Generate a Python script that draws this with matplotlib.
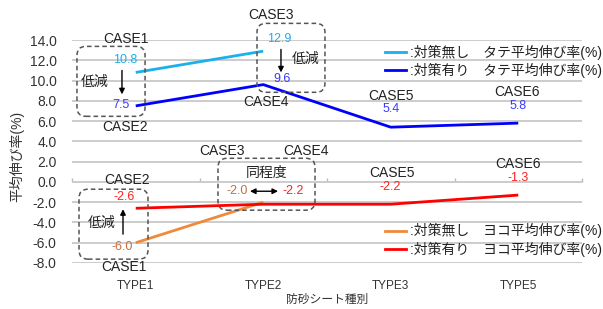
import matplotlib
matplotlib.use('Agg')
import matplotlib.pyplot as plt
import numpy as np
from matplotlib.patches import FancyBboxPatch
from matplotlib.lines import Line2D

plt.rcParams['font.family'] = ['Liberation Sans', 'Noto Sans CJK JP']

# ---- data ----
categories = ['TYPE1', 'TYPE2', 'TYPE3', 'TYPE5']
tate_none = [10.8, 12.9]            # 対策無し タテ
tate_with = [7.5, 9.6, 5.4, 5.8]    # 対策有り タテ
yoko_none = [-6.0, -2.0]            # 対策無し ヨコ
yoko_with = [-2.6, -2.2, -2.2, -1.3]  # 対策有り ヨコ
legend_labels = [':対策無し　タテ平均伸び率(%)', ':対策有り　タテ平均伸び率(%)',
                 ':対策無し　ヨコ平均伸び率(%)', ':対策有り　ヨコ平均伸び率(%)']
yticks = np.arange(-8, 15, 2)

# ---- styles ----
c_lb, c_b, c_o, c_r = '#1ab0ec', '#0000ff', '#f0893a', '#ff0000'
t_lb, t_b, t_o, t_r = '#1ab0ec', '#3a3aff', '#c07040', '#ff2020'
LW = 2.0

fig = plt.figure(figsize=(6.03, 3.09), dpi=100)
W, H = 603, 309
ax = fig.add_axes([72 / W, 1 - 263 / H, 510 / W, 223 / H])
x = np.arange(len(categories))

ax.plot(x[:len(tate_none)], tate_none, color=c_lb, lw=LW, solid_capstyle='butt', zorder=3)
ax.plot(x, tate_with, color=c_b, lw=LW, solid_capstyle='butt', zorder=3)
ax.plot(x[:len(yoko_none)], yoko_none, color=c_o, lw=LW, solid_capstyle='butt', zorder=3)
ax.plot(x, yoko_with, color=c_r, lw=LW, solid_capstyle='butt', zorder=3)

ax.set_xlim(-0.5, 3.5)
ax.set_ylim(-8, 14)
ax.set_yticks(yticks)
ax.set_yticklabels([f'{v:.1f}' for v in yticks], fontsize=10, color='#333333')
ax.set_xticks(x)
ax.set_xticklabels(categories, fontsize=8.5, color='#333333')
ax.tick_params(axis='both', length=0)
ax.tick_params(axis='y', pad=11)
ax.tick_params(axis='x', pad=12)
for s in ax.spines.values():
    s.set_visible(False)
ax.yaxis.grid(True, color='#cccccc', lw=1.4)
ax.set_axisbelow(True)

# category axis at y = 0
sec = ax.secondary_xaxis(8 / 22)
sec.set_xticks(np.arange(-0.5, 4, 1))
sec.set_xticklabels([])
sec.tick_params(direction='in', length=3, color='#bbbbbb', width=1)
sec.spines['bottom'].set_visible(False)
sec.spines['top'].set_visible(False)

fig.text(17 / W, 1 - 156 / H, '平均伸び率(%)', rotation=90, ha='center', va='center',
         fontsize=10, color='#333333')
fig.text(327 / W, 1 - 300 / H, '防砂シート種別', ha='center', va='center',
         fontsize=8.5, color='#333333')

# ---- value labels ----
def lab(xp, yp, s, c, fs=9):
    ax.text(xp, yp, s, color=c, fontsize=fs, ha='center', va='center', clip_on=False, zorder=5)

tate_none_pos = [(-0.084, 12.0), (1.124, 14.06)]
tate_with_pos = [(-0.116, 7.56), (1.147, 10.12), (2.0, 7.16), (2.998, 7.46)]
yoko_none_pos = [(-0.108, -6.43), (0.794, -0.92)]
yoko_with_pos = [(-0.092, -1.51), (1.233, -0.92), (1.994, -0.52), (2.998, 0.36)]
for v, p in zip(tate_none, tate_none_pos):
    lab(p[0], p[1], f'{v:.1f}', t_lb)
for v, p in zip(tate_with, tate_with_pos):
    lab(p[0], p[1], f'{v:.1f}', t_b)
for v, p in zip(yoko_none, yoko_none_pos):
    lab(p[0], p[1], f'{v:.1f}', t_o)
for v, p in zip(yoko_with, yoko_with_pos):
    lab(p[0], p[1], f'{v:.1f}', t_r)

case_texts = ['CASE1', 'CASE2', 'CASE3', 'CASE4', 'CASE5', 'CASE6',
              'CASE3', 'CASE4', 'CASE2', 'CASE1', 'CASE5', 'CASE6']
case_pos = [(-0.076, 14.06), (-0.084, 5.39), (1.06, 16.42), (1.02, 7.85), (2.002, 8.44), (2.99, 8.84),
            (0.676, 3.02), (1.335, 3.02), (-0.069, 0.17), (-0.092, -8.4), (2.01, 0.86), (2.998, 1.74)]
for s, p in zip(case_texts, case_pos):
    lab(p[0], p[1], s, '#222222', fs=10)

lab(-0.32, 9.82, '低減', '#222222', fs=10)
lab(1.335, 12.09, '低減', '#222222', fs=10)
lab(1.03, 0.86, '同程度', '#222222', fs=10)
lab(-0.27, -4.07, '低減', '#222222', fs=10)

# ---- dashed boxes ----
aspect = (22 / 223) / (4 / 510)
boxes = [(-0.461, 6.47, 0.073, 13.37), (0.951, 8.84, 1.484, 15.64),
         (0.645, -2.79, 1.406, 2.33), (-0.445, -7.62, 0.096, -0.72)]
for x0, y0, x1, y1 in boxes:
    p = FancyBboxPatch((x0, y0), x1 - x0, y1 - y0,
                       boxstyle='round,pad=0,rounding_size=0.07', mutation_aspect=aspect,
                       fill=False, ec='#555555', lw=1.1, ls=(0, (3, 2)), clip_on=False, zorder=4)
    ax.add_patch(p)

# ---- arrows ----
ap = dict(arrowstyle='-|>', color='black', lw=1.0, mutation_scale=8, shrinkA=0, shrinkB=0)
ax.annotate('', xy=(-0.108, 8.64), xytext=(-0.108, 11.0), arrowprops=ap, annotation_clip=False)
ax.annotate('', xy=(1.139, 10.8), xytext=(1.139, 13.07), arrowprops=ap, annotation_clip=False)
ax.annotate('', xy=(-0.1, -2.69), xytext=(-0.1, -5.15), arrowprops=ap, annotation_clip=False)
ap2 = dict(ap, arrowstyle='<|-|>')
ax.annotate('', xy=(1.116, -0.92), xytext=(0.896, -0.92), arrowprops=ap2, annotation_clip=False)

# ---- legends ----
h1 = [Line2D([], [], color=c_lb, lw=LW), Line2D([], [], color=c_b, lw=LW)]
h2 = [Line2D([], [], color=c_o, lw=LW), Line2D([], [], color=c_r, lw=LW)]
kw = dict(frameon=False, fontsize=10, handlelength=1.5, handletextpad=0.3,
          labelspacing=0.22, borderpad=0, borderaxespad=0, loc='center left',
          bbox_transform=fig.transFigure, labelcolor='#222222')
leg1 = ax.legend(h1, legend_labels[:2], bbox_to_anchor=(385 / W, 1 - 61.5 / H), **kw)
ax.add_artist(leg1)
leg2 = ax.legend(h2, legend_labels[2:], bbox_to_anchor=(385 / W, 1 - 240 / H), **kw)

fig.savefig('out.png', dpi=100)
